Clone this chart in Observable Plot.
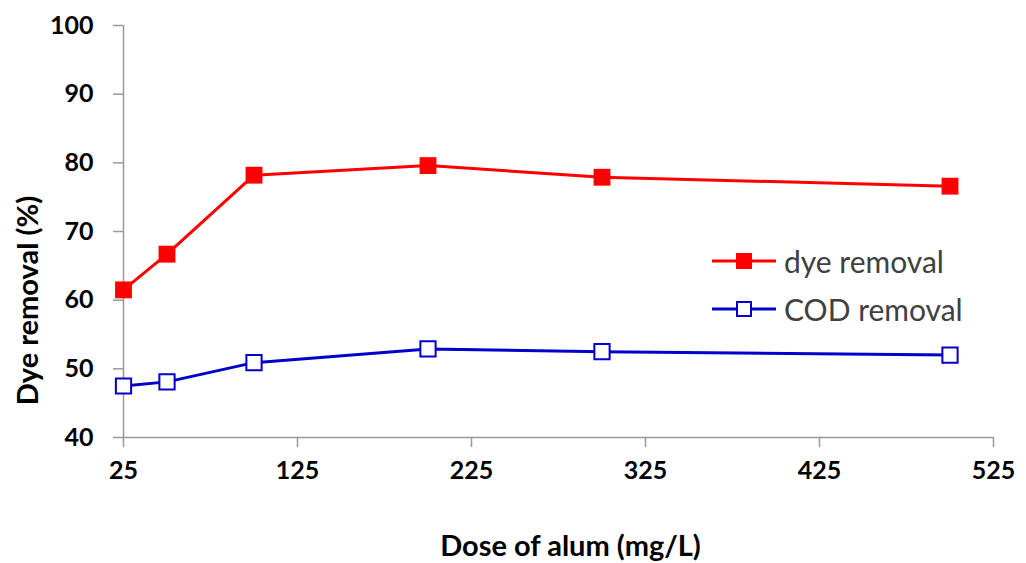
<!DOCTYPE html>
<html>
<head>
<meta charset="utf-8">
<script src="https://cdn.jsdelivr.net/npm/d3@7"></script>
<script src="https://cdn.jsdelivr.net/npm/@observablehq/plot@0.6"></script>
<style>
  html, body { margin: 0; padding: 0; background: #fff; }
  #wrap { position: relative; width: 1026px; height: 563px; }
  .legend { position: absolute; left: 712px; font-family: Lato, "Open Sans", sans-serif; font-size: 30px; color: #404040; }
  .legend .row { display: flex; align-items: center; height: 48px; }
  .legend svg { margin-right: 8px; }
</style>
</head>
<body>
<div id="wrap"></div>
<script>
const doses = [25, 50, 100, 200, 300, 500];
const dyeRemoval = [61.5, 66.7, 78.2, 79.6, 77.9, 76.6];
const codRemoval = [47.5, 48.1, 50.9, 52.9, 52.5, 52.0];
const xTicks = [25, 125, 225, 325, 425, 525];
const yTicks = [40, 50, 60, 70, 80, 90, 100];
const seriesNames = ["dye removal", "COD removal"];
const seriesColors = ["#FF0000", "#0000CC"];

const dye = doses.map((d, i) => ({x: d, y: dyeRemoval[i]}));
const cod = doses.map((d, i) => ({x: d, y: codRemoval[i]}));

const font = "Lato, 'Open Sans', sans-serif";

const chart = Plot.plot({
  width: 1026,
  height: 563,
  marginLeft: 123,
  marginRight: 33,
  marginTop: 25,
  marginBottom: 126,
  style: {fontFamily: font, background: "#fff", overflow: "visible"},
  x: {domain: [25, 525], ticks: xTicks},
  y: {domain: [40, 100], ticks: yTicks},
  marks: [
    Plot.ruleX([25], {stroke: "#999", strokeWidth: 1.5}),
    Plot.ruleY([40], {stroke: "#999", strokeWidth: 1.5}),
    Plot.axisY({ticks: yTicks, tickSize: 10, stroke: "#999", strokeWidth: 1.5, tickPadding: 20,
      fontSize: 25, fontWeight: "bold", fill: "#000", label: null}),
    Plot.axisX({ticks: xTicks, tickSize: 10, stroke: "#999", strokeWidth: 1.5, tickPadding: 14,
      fontSize: 25, fontWeight: "bold", fill: "#000", label: null}),
    Plot.text(["Dose of alum (mg/L)"], {frameAnchor: "bottom", dx: 12, dy: 118, fontSize: 29, fontWeight: "bold", fill: "#000", fontFamily: font}),
    Plot.text(["Dye removal (%)"], {frameAnchor: "left", textAnchor: "middle", dx: -95, dy: 69, rotate: -90, fontSize: 29, fontWeight: "bold", fill: "#000", fontFamily: font}),
    Plot.line(dye, {x: "x", y: "y", stroke: seriesColors[0], strokeWidth: 3}),
    Plot.dot(dye, {x: "x", y: "y", symbol: "square", r: 9.5, fill: seriesColors[0], stroke: "none"}),
    Plot.line(cod, {x: "x", y: "y", stroke: seriesColors[1], strokeWidth: 3}),
    Plot.dot(cod, {x: "x", y: "y", symbol: "square", r: 8.6, fill: "#fff", stroke: seriesColors[1], strokeWidth: 2})
  ]
});

const wrap = document.getElementById("wrap");
wrap.appendChild(chart);

const legend = document.createElement("div");
legend.className = "legend";
legend.style.top = "237px";
seriesNames.forEach((name, i) => {
  const row = document.createElement("div");
  row.className = "row";
  const filled = i === 0;
  row.innerHTML = `<svg width="64" height="20" viewBox="0 0 64 20">
    <line x1="0" y1="10" x2="64" y2="10" stroke="${seriesColors[i]}" stroke-width="3"/>
    ${filled
      ? `<rect x="24" y="2" width="16" height="16" fill="${seriesColors[i]}"/>`
      : `<rect x="25" y="3" width="14" height="14" fill="#fff" stroke="${seriesColors[i]}" stroke-width="2"/>`}
  </svg><span>${name}</span>`;
  legend.appendChild(row);
});
wrap.appendChild(legend);
</script>
</body>
</html>
